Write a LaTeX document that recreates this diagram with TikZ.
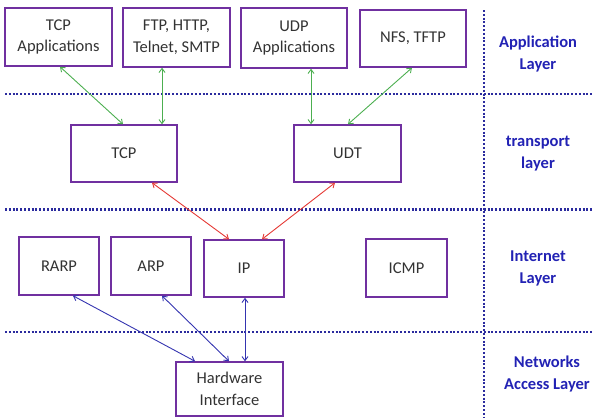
\documentclass[tikz,border=0pt]{standalone}
\usepackage{fontspec}
\setmainfont{Carlito}
\usetikzlibrary{arrows.meta}
\definecolor{boxc}{HTML}{7030A0}
\definecolor{dotc}{HTML}{2B2B9E}
\definecolor{labc}{HTML}{2222B4}
\definecolor{txtc}{HTML}{333333}
\definecolor{grn}{HTML}{4CAF50}
\definecolor{rd}{HTML}{E53935}
\definecolor{bl}{HTML}{3434B0}
\tikzset{
  box/.style={draw=boxc, line width=1.5pt, fill=white, align=center, text=txtc,
    font=\fontsize{16.5}{21.5}\selectfont, inner sep=0pt},
  layerlab/.style={align=center, text=labc, font=\fontsize{16.5}{22}\selectfont\bfseries},
  sep/.style={draw=dotc, line width=2.3pt, dash pattern=on 2pt off 1.8pt},
  conn/.style={line width=0.9pt, {Straight Barb[length=4pt,width=6pt]}-{Straight Barb[length=4pt,width=6pt]}},
}
\begin{document}
\begin{tikzpicture}[x=1pt,y=-1pt]
\useasboundingbox (0,0) rectangle (594,418);
% separators
\coordinate (h1a) at (5,94); \coordinate (h1b) at (594,94);
\coordinate (h2a) at (5,209.5); \coordinate (h2b) at (594,209.5);
\coordinate (h3a) at (5,332); \coordinate (h3b) at (594,332);
\coordinate (va) at (484,10); \coordinate (vb) at (484,418);
\draw[sep] (h1a) -- (h1b);
\draw[sep] (h2a) -- (h2b);
\draw[sep] (h3a) -- (h3b);
\draw[sep] (va) -- (vb);
% boxes
\node[box, minimum width=107pt, minimum height=58pt] (tcpapp) at (58.5,37) {TCP\\Applications};
\node[box, minimum width=107pt, minimum height=59pt] (ftp) at (176.5,37.5) {FTP, HTTP,\\Telnet, SMTP};
\node[box, minimum width=106pt, minimum height=60pt] (udpapp) at (294,38) {UDP\\Applications};
\node[box, minimum width=106pt, minimum height=57pt] (nfs) at (413,38.5) {NFS, TFTP};
\node[box, minimum width=106pt, minimum height=57pt] (tcp) at (124,153.5) {TCP};
\node[box, minimum width=107pt, minimum height=57pt] (udt) at (347.5,153.5) {UDT};
\node[box, minimum width=80pt, minimum height=58pt] (rarp) at (59,266) {RARP};
\node[box, minimum width=80pt, minimum height=58pt] (arp) at (151,266) {ARP};
\node[box, minimum width=80pt, minimum height=57pt] (ip) at (244,268.5) {IP};
\node[box, minimum width=81pt, minimum height=58pt] (icmp) at (406.5,268) {ICMP};
\node[box, minimum width=107pt, minimum height=54pt] (hw) at (229.5,389) {Hardware\\Interface};
% layer labels
\node[layerlab] (l1) at (538,54) {Application\\Layer};
\node[layerlab] (l2) at (538,154) {transport\\layer};
\node[layerlab] (l3) at (538,268) {Internet\\Layer};
\node[layerlab] (l4) at (547,374) {Networks\\Access Layer};
% green
\draw[conn, grn] ([xshift=1.5pt]tcpapp.south) -- ([xshift=-1pt]tcp.north);
\draw[conn, grn] ([xshift=-14.5pt]ftp.south) -- ([xshift=38pt]tcp.north);
\draw[conn, grn] ([xshift=17pt]udpapp.south) -- ([xshift=-36.5pt]udt.north);
\draw[conn, grn] ([xshift=-1pt]nfs.south) -- ([xshift=0.5pt]udt.north);
% red
\draw[conn, rd] ([xshift=28pt]tcp.south) -- ([xshift=-15pt]ip.north);
\draw[conn, rd] ([xshift=-12.5pt]udt.south) -- ([xshift=18pt]ip.north);
% blue
\draw[conn, bl] ([xshift=14pt]rarp.south) -- ([xshift=-34.5pt]hw.north);
\draw[conn, bl] ([xshift=11pt]arp.south) -- ([xshift=-0.5pt]hw.north);
\draw[conn, bl] ([xshift=1pt]ip.south) -- ([xshift=15.5pt]hw.north);
\end{tikzpicture}
\end{document}
